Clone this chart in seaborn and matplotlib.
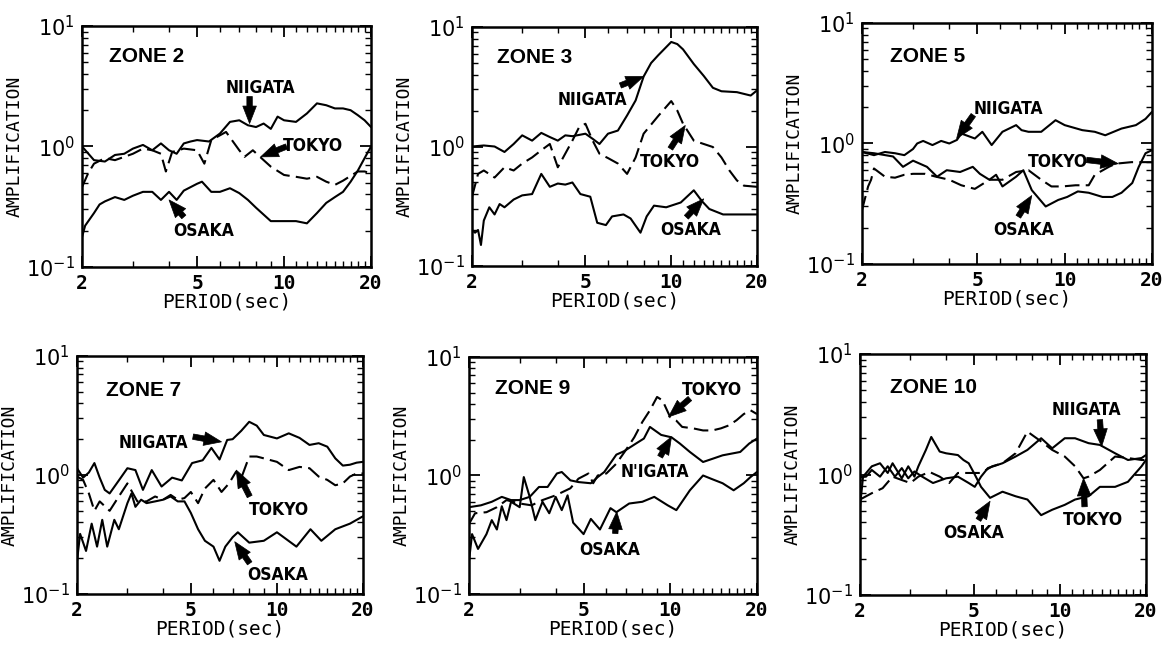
import matplotlib
matplotlib.use("Agg")
import matplotlib.pyplot as plt
from matplotlib.ticker import NullFormatter, LogLocator, FixedLocator
import seaborn as sns
import pandas as pd

# ---------------- data (period [sec], amplification) ----------------
# ZONE 2
z2_niigata_p = [2.0, 2.2, 2.4, 2.6, 2.8, 3.0, 3.25, 3.5, 3.75, 4.0, 4.25, 4.5, 4.75, 5.0, 5.5, 6.0, 6.5, 7.0, 7.5, 8.0, 8.5, 9.0, 9.5, 10, 11, 12, 13, 14, 15, 16, 17, 18, 19, 20]
z2_niigata_a = [1.0, 0.77, 0.75, 0.85, 0.87, 0.96, 1.03, 0.93, 1.06, 0.93, 0.87, 1.06, 1.1, 1.13, 1.1, 1.28, 1.6, 1.65, 1.5, 1.45, 1.55, 1.4, 1.77, 1.65, 1.6, 1.88, 2.28, 2.2, 2.07, 2.07, 2.0, 1.82, 1.65, 1.45]
z2_tokyo_p = [2.0, 2.1, 2.2, 2.4, 2.6, 2.8, 3.0, 3.25, 3.5, 3.75, 3.9, 4.1, 4.5, 5.0, 5.3, 5.6, 6.3, 7.0, 7.3, 7.8, 8.5, 9.0, 10, 11, 12, 13, 14, 15, 16, 17, 18, 19, 20]
z2_tokyo_a = [0.46, 0.6, 0.72, 0.8, 0.77, 0.82, 0.87, 0.96, 0.93, 0.87, 0.62, 0.9, 0.96, 0.93, 0.72, 1.13, 1.32, 0.93, 0.82, 0.93, 0.77, 0.68, 0.58, 0.56, 0.54, 0.56, 0.51, 0.48, 0.52, 0.57, 0.62, 0.62, 0.6]
z2_osaka_p = [2.0, 2.05, 2.2, 2.3, 2.4, 2.6, 2.8, 3.0, 3.25, 3.5, 3.75, 4.0, 4.25, 4.5, 5.0, 5.2, 5.6, 6.0, 6.5, 7.0, 7.5, 8.0, 9.0, 10, 11, 12, 13, 14, 15, 16, 17, 18, 19, 20]
z2_osaka_a = [0.177, 0.22, 0.28, 0.33, 0.35, 0.38, 0.36, 0.39, 0.42, 0.42, 0.36, 0.42, 0.36, 0.43, 0.49, 0.51, 0.42, 0.42, 0.45, 0.41, 0.36, 0.31, 0.24, 0.24, 0.24, 0.23, 0.28, 0.34, 0.38, 0.42, 0.51, 0.63, 0.8, 1.0]

# ZONE 3
z3_niigata_p = [2.0, 2.2, 2.4, 2.6, 2.8, 3.0, 3.25, 3.5, 3.75, 4.0, 4.25, 4.5, 4.75, 5.0, 5.3, 5.6, 6.0, 6.5, 7.0, 7.5, 8.0, 8.5, 9.0, 10, 10.5, 11, 12, 13, 14, 15, 17, 19, 20]
z3_niigata_a = [1.0, 1.02, 1.0, 0.9, 1.05, 1.24, 1.12, 1.3, 1.2, 1.12, 1.24, 1.22, 1.25, 1.28, 1.16, 1.05, 1.28, 1.36, 1.82, 2.43, 3.85, 5.0, 5.8, 7.5, 7.2, 6.5, 4.9, 3.9, 3.1, 2.9, 2.85, 2.67, 2.95]
z3_tokyo_p = [2.0, 2.1, 2.2, 2.4, 2.6, 2.8, 3.0, 3.25, 3.5, 3.75, 4.0, 4.5, 4.75, 5.0, 5.3, 5.6, 6.0, 6.5, 7.0, 7.5, 8.0, 9.0, 10, 10.5, 11, 12, 13, 14, 15, 16, 17, 18, 20]
z3_tokyo_a = [0.38, 0.59, 0.63, 0.55, 0.67, 0.63, 0.72, 0.81, 0.93, 1.05, 0.67, 1.12, 1.45, 1.55, 1.12, 0.87, 0.8, 0.72, 0.59, 0.81, 1.28, 1.8, 2.4, 2.0, 1.55, 1.12, 1.05, 0.99, 0.81, 0.63, 0.52, 0.47, 0.46]
z3_osaka_p = [2.0, 2.05, 2.1, 2.15, 2.2, 2.3, 2.4, 2.5, 2.6, 2.8, 3.0, 3.25, 3.5, 3.75, 4.0, 4.25, 4.5, 4.8, 5.2, 5.5, 5.9, 6.2, 6.8, 7.2, 7.8, 8.2, 8.7, 9.6, 10.8, 12.0, 12.8, 13.6, 15.2, 17.5, 20]
z3_osaka_a = [0.2, 0.19, 0.2, 0.15, 0.24, 0.31, 0.27, 0.33, 0.31, 0.36, 0.39, 0.4, 0.59, 0.46, 0.49, 0.48, 0.5, 0.4, 0.38, 0.23, 0.22, 0.26, 0.27, 0.25, 0.19, 0.26, 0.32, 0.31, 0.34, 0.43, 0.35, 0.3, 0.27, 0.27, 0.27]

# ZONE 5
z5_niigata_p = [2.0, 2.2, 2.4, 2.6, 2.8, 3.0, 3.1, 3.25, 3.5, 3.75, 4.0, 4.25, 4.4, 4.9, 5.2, 5.6, 6.1, 6.8, 7.1, 7.5, 8.3, 9.3, 10.0, 11.5, 12.7, 13.8, 15.7, 17.6, 19.0, 20.0]
z5_niigata_a = [0.85, 0.8, 0.85, 0.83, 0.8, 0.9, 1.0, 1.05, 0.97, 1.05, 1.0, 1.07, 1.21, 1.1, 1.25, 0.97, 1.25, 1.42, 1.29, 1.25, 1.25, 1.56, 1.42, 1.29, 1.25, 1.17, 1.33, 1.42, 1.6, 1.83]
z5_tokyo_p = [2.0, 2.1, 2.15, 2.2, 2.4, 2.6, 2.8, 3.0, 3.3, 3.6, 4.0, 4.4, 4.9, 5.5, 6.1, 6.8, 7.5, 8.3, 9.0, 9.8, 10.9, 12.1, 12.7, 14.2, 15.0, 17.0, 20]
z5_tokyo_a = [0.28, 0.44, 0.5, 0.62, 0.53, 0.52, 0.55, 0.56, 0.56, 0.53, 0.5, 0.45, 0.42, 0.5, 0.5, 0.58, 0.6, 0.5, 0.44, 0.44, 0.45, 0.45, 0.55, 0.64, 0.68, 0.7, 0.7]
z5_osaka_p = [2.0, 2.2, 2.56, 2.77, 3.0, 3.35, 3.63, 3.92, 4.36, 4.82, 5.1, 5.5, 5.8, 6.1, 6.8, 7.2, 7.7, 8.6, 9.5, 10.2, 11.1, 12.1, 13.5, 14.6, 15.7, 17.1, 18.0, 19.0, 20.0]
z5_osaka_a = [0.85, 0.83, 0.78, 0.64, 0.72, 0.64, 0.53, 0.6, 0.58, 0.64, 0.56, 0.5, 0.55, 0.44, 0.53, 0.6, 0.41, 0.3, 0.34, 0.36, 0.4, 0.39, 0.36, 0.36, 0.39, 0.47, 0.64, 0.83, 0.88]

# ZONE 7
z7_niigata_p = [2.0, 2.1, 2.2, 2.3, 2.4, 2.5, 2.6, 2.8, 3.0, 3.2, 3.4, 3.65, 3.95, 4.3, 4.65, 5.05, 5.5, 5.9, 6.3, 6.7, 7.0, 7.5, 8.0, 8.5, 9.0, 10, 11, 12, 13, 14, 15, 16, 17, 18, 19, 20]
z7_niigata_a = [1.14, 0.95, 1.05, 1.26, 0.95, 0.75, 0.7, 0.9, 1.14, 1.1, 0.75, 1.1, 0.8, 0.95, 0.9, 1.26, 1.33, 1.69, 1.35, 1.97, 2.0, 2.35, 2.8, 2.6, 2.17, 2.03, 2.24, 2.05, 1.79, 1.85, 1.73, 1.38, 1.2, 1.22, 1.27, 1.29]
z7_tokyo_p = [2.0, 2.1, 2.2, 2.3, 2.4, 2.6, 2.8, 3.0, 3.25, 3.5, 3.75, 4.0, 4.25, 4.5, 4.75, 5.0, 5.3, 5.6, 6.0, 6.4, 6.8, 7.2, 7.5, 8.0, 8.5, 9.0, 10, 11, 12, 13, 14, 15, 16, 17, 18, 19, 20]
z7_tokyo_a = [0.97, 0.91, 0.7, 0.5, 0.6, 0.5, 0.66, 0.85, 0.6, 0.6, 0.66, 0.62, 0.68, 0.62, 0.64, 0.72, 0.58, 0.77, 0.91, 0.72, 0.85, 1.07, 0.94, 1.43, 1.43, 1.38, 1.29, 1.1, 1.17, 1.14, 0.97, 0.91, 0.82, 0.85, 0.97, 1.03, 1.03]
z7_osaka_p = [2.0, 2.05, 2.15, 2.25, 2.35, 2.45, 2.55, 2.7, 2.8, 3.0, 3.1, 3.2, 3.35, 3.5, 3.75, 4.0, 4.25, 4.5, 4.75, 5.0, 5.3, 5.6, 6.0, 6.3, 6.6, 7.0, 7.3, 8.0, 9.0, 10.0, 11.7, 13.1, 14.3, 16.0, 18.0, 20.0]
z7_osaka_a = [0.19, 0.32, 0.23, 0.39, 0.25, 0.42, 0.25, 0.42, 0.35, 0.58, 0.7, 0.54, 0.62, 0.58, 0.6, 0.62, 0.66, 0.6, 0.6, 0.48, 0.35, 0.28, 0.25, 0.19, 0.25, 0.3, 0.33, 0.27, 0.28, 0.33, 0.25, 0.35, 0.28, 0.35, 0.39, 0.45]

# ZONE 9
z9_niigata_p = [2.0, 2.2, 2.4, 2.6, 2.8, 3.0, 3.25, 3.5, 3.75, 4.04, 4.2, 4.5, 4.8, 5.3, 5.6, 5.9, 6.5, 6.9, 7.6, 8.1, 8.5, 9.3, 10.1, 10.8, 11.7, 13.0, 14.1, 15.2, 17.5, 18.8, 20.0]
z9_niigata_a = [0.54, 0.56, 0.6, 0.66, 0.62, 0.62, 0.66, 0.8, 0.8, 1.04, 1.07, 0.91, 0.88, 0.86, 0.97, 1.07, 1.5, 1.6, 1.86, 2.05, 2.57, 2.2, 2.1, 1.86, 1.58, 1.3, 1.39, 1.48, 1.58, 1.86, 2.05]
z9_tokyo_p = [2.0, 2.1, 2.3, 2.5, 2.7, 3.0, 3.3, 3.6, 4.0, 4.5, 4.8, 5.2, 5.4, 5.6, 6.0, 6.5, 7.0, 7.5, 8.0, 8.5, 9.0, 9.4, 10, 10.5, 11, 12, 13, 14, 15, 16, 17, 18, 19, 20]
z9_tokyo_a = [0.39, 0.48, 0.49, 0.54, 0.62, 0.58, 0.56, 0.62, 0.68, 0.78, 0.94, 1.04, 0.86, 1.0, 1.04, 1.26, 1.63, 2.1, 2.83, 3.55, 4.6, 4.3, 3.1, 2.9, 2.57, 2.5, 2.4, 2.4, 2.5, 2.65, 2.93, 3.3, 3.55, 3.3]
z9_osaka_p = [2.0, 2.05, 2.15, 2.3, 2.4, 2.5, 2.6, 2.7, 2.8, 3.0, 3.1, 3.25, 3.4, 3.6, 3.8, 4.0, 4.2, 4.4, 4.6, 5.0, 5.3, 5.7, 6.2, 6.5, 7.2, 8.0, 8.8, 9.8, 10.5, 11.7, 13.0, 14.0, 15.2, 16.6, 18.0, 19.0, 20.0]
z9_osaka_a = [0.19, 0.32, 0.24, 0.32, 0.42, 0.35, 0.55, 0.42, 0.6, 0.54, 0.97, 0.66, 0.42, 0.6, 0.48, 0.66, 0.51, 0.68, 0.4, 0.32, 0.43, 0.35, 0.53, 0.49, 0.58, 0.6, 0.66, 0.56, 0.51, 0.75, 1.0, 0.93, 0.86, 0.75, 0.86, 0.97, 1.07]

# ZONE 10
z10_niigata_p = [2.0, 2.1, 2.2, 2.35, 2.5, 2.65, 2.8, 2.95, 3.1, 3.3, 3.6, 4.0, 4.4, 4.8, 5.04, 5.3, 5.6, 6.3, 7.0, 7.7, 8.6, 9.4, 10.4, 11.3, 12.6, 13.8, 15.6, 17.3, 19.3, 20.0]
z10_niigata_a = [0.95, 0.96, 1.09, 0.96, 1.17, 0.96, 1.13, 0.93, 1.06, 0.96, 0.85, 0.93, 0.96, 0.85, 0.79, 0.96, 1.13, 1.24, 1.41, 1.6, 2.0, 1.65, 2.0, 2.0, 1.82, 1.76, 1.5, 1.32, 1.37, 1.45]
z10_tokyo_p = [2.0, 2.2, 2.4, 2.6, 2.8, 3.0, 3.2, 3.5, 3.8, 4.1, 4.4, 4.8, 5.3, 5.8, 6.3, 7.0, 7.7, 8.6, 9.4, 10.4, 11.3, 12.1, 12.6, 13.8, 15.6, 17.3, 19.3, 20.0]
z10_tokyo_a = [0.62, 0.7, 0.77, 0.96, 0.9, 0.85, 0.96, 1.05, 0.96, 0.85, 1.03, 1.03, 1.03, 1.17, 1.24, 1.5, 2.27, 1.88, 1.6, 1.41, 1.17, 0.93, 0.96, 1.09, 1.41, 1.37, 1.32, 1.32]
z10_osaka_p = [2.0, 2.05, 2.2, 2.35, 2.5, 2.6, 2.8, 2.95, 3.1, 3.2, 3.4, 3.55, 3.8, 4.0, 4.4, 4.6, 4.8, 5.04, 5.3, 5.7, 6.3, 7.0, 7.7, 8.6, 9.4, 10.4, 11.3, 12.6, 13.8, 15.6, 17.3, 19.3, 20.0]
z10_osaka_a = [0.54, 0.96, 1.17, 1.24, 1.03, 1.24, 0.93, 1.17, 0.96, 1.17, 1.6, 2.05, 1.55, 1.5, 1.45, 1.32, 1.24, 1.0, 0.79, 0.64, 0.72, 0.66, 0.62, 0.46, 0.51, 0.56, 0.62, 0.66, 0.79, 0.79, 0.87, 1.17, 1.32]

zone_names = ["ZONE 2", "ZONE 3", "ZONE 5", "ZONE 7", "ZONE 9", "ZONE 10"]
x_ticks = [2, 5, 10, 20]
x_tick_labels = ["2", "5", "10", "20"]
y_ticks = [0.1, 1, 10]
y_tick_labels = [r"$10^{-1}$", r"$10^{0}$", r"$10^{1}$"]

series = {
    "ZONE 2": [("NIIGATA", z2_niigata_p, z2_niigata_a), ("TOKYO", z2_tokyo_p, z2_tokyo_a), ("OSAKA", z2_osaka_p, z2_osaka_a)],
    "ZONE 3": [("NIIGATA", z3_niigata_p, z3_niigata_a), ("TOKYO", z3_tokyo_p, z3_tokyo_a), ("OSAKA", z3_osaka_p, z3_osaka_a)],
    "ZONE 5": [("NIIGATA", z5_niigata_p, z5_niigata_a), ("TOKYO", z5_tokyo_p, z5_tokyo_a), ("OSAKA", z5_osaka_p, z5_osaka_a)],
    "ZONE 7": [("NIIGATA", z7_niigata_p, z7_niigata_a), ("TOKYO", z7_tokyo_p, z7_tokyo_a), ("OSAKA", z7_osaka_p, z7_osaka_a)],
    "ZONE 9": [("NIIGATA", z9_niigata_p, z9_niigata_a), ("TOKYO", z9_tokyo_p, z9_tokyo_a), ("OSAKA", z9_osaka_p, z9_osaka_a)],
    "ZONE 10": [("NIIGATA", z10_niigata_p, z10_niigata_a), ("TOKYO", z10_tokyo_p, z10_tokyo_a), ("OSAKA", z10_osaka_p, z10_osaka_a)],
}

# ---------------- layout / annotations ----------------
axes_rects = {
    "ZONE 2": [0.0706, 0.590, 0.2487, 0.370],
    "ZONE 3": [0.4062, 0.5914, 0.2453, 0.3671],
    "ZONE 5": [0.7418, 0.5945, 0.2496, 0.3702],
    "ZONE 7": [0.0663, 0.0876, 0.2461, 0.3655],
    "ZONE 9": [0.4036, 0.0876, 0.2478, 0.3640],
    "ZONE 10": [0.7401, 0.0860, 0.2461, 0.3702],
}
title_pos = {
    "ZONE 2": (0.092, 0.873), "ZONE 3": (0.088, 0.874), "ZONE 5": (0.096, 0.86),
    "ZONE 7": (0.103, 0.857), "ZONE 9": (0.09, 0.867), "ZONE 10": (0.105, 0.859),
}
# (label, text_xy, arrow_tail, arrow_tip) in data coords
annotations = {
    "ZONE 2": [("NIIGATA", (8.26, 3.03), (7.6, 2.6), (7.6, 1.55)),
               ("TOKYO", (12.6, 1.0), (10.2, 1.0), (8.3, 0.82)),
               ("OSAKA", (5.27, 0.2), (4.5, 0.26), (4.0, 0.36))],
    "ZONE 3": [("NIIGATA", (5.27, 2.43), (6.63, 3.24), (8.0, 3.86)),
               ("TOKYO", (9.93, 0.74), (9.93, 0.96), (11.2, 1.5)),
               ("OSAKA", (11.7, 0.2), (11.3, 0.256), (13.0, 0.365))],
    "ZONE 5": [("NIIGATA", (6.4, 1.95), (4.84, 1.72), (4.24, 1.1)),
               ("TOKYO", (9.5, 0.705), (11.9, 0.73), (15.3, 0.68)),
               ("OSAKA", (7.2, 0.19), (6.92, 0.247), (7.7, 0.37))],
    "ZONE 7": [("NIIGATA", (3.69, 1.85), (5.09, 2.1), (6.4, 1.9)),
               ("TOKYO", (10.2, 0.51), (8.03, 0.66), (7.21, 1.1)),
               ("OSAKA", (10.1, 0.144), (8.03, 0.181), (7.12, 0.275))],
    "ZONE 9": [("TOKYO", (13.96, 5.24), (11.7, 4.46), (9.86, 3.12)),
               ("N'IGATA", (8.87, 1.07), (9.22, 1.44), (10.1, 2.12)),
               ("OSAKA", (6.18, 0.235), (6.44, 0.324), (6.52, 0.494))],
    "ZONE 10": [("NIIGATA", (12.4, 3.45), (13.8, 2.85), (14.0, 1.71)),
                ("TOKYO", (13.1, 0.42), (12.2, 0.54), (12.1, 0.93)),
                ("OSAKA", (4.98, 0.325), (5.19, 0.42), (5.7, 0.6))],
}

sns.set_style("ticks")
plt.rcParams["font.family"] = ["DejaVu Sans"]
plt.rcParams["mathtext.fontset"] = "dejavusans"
for key in ["text.color", "axes.labelcolor", "xtick.color", "ytick.color", "axes.edgecolor"]:
    plt.rcParams[key] = "black"

fig = plt.figure(figsize=(11.62, 6.51), dpi=100)
mono = "DejaVu Sans Mono"

for zone in zone_names:
    ax = fig.add_axes(axes_rects[zone])
    ax.set_xscale("log")
    ax.set_yscale("log")
    for city, p, a in series[zone]:
        df = pd.DataFrame({"period": p, "amp": a})
        ls = (0, (7, 3)) if city == "TOKYO" else "-"
        sns.lineplot(data=df, x="period", y="amp", ax=ax, color="black",
                     linewidth=1.5, linestyle=ls, sort=False, estimator=None)
    ax.set_xlim(2, 20)
    ax.set_ylim(0.1, 10)
    ax.set_xticks(x_ticks)
    ax.set_xticklabels(x_tick_labels, fontsize=14, family=mono, fontweight="bold")
    ax.xaxis.set_minor_locator(FixedLocator(list(range(3, 20))))
    ax.xaxis.set_minor_formatter(NullFormatter())
    ax.set_yticks(y_ticks)
    ax.set_yticklabels(y_tick_labels, fontsize=15)
    ax.yaxis.set_minor_locator(LogLocator(base=10, subs=range(2, 10)))
    ax.yaxis.set_minor_formatter(NullFormatter())
    ax.tick_params(which="both", direction="in", top=True, right=True, colors="black")
    ax.tick_params(which="major", length=8, width=1.3, pad=5)
    ax.tick_params(which="minor", length=4, width=1.0)
    for s in ax.spines.values():
        s.set_linewidth(1.8)
        s.set_color("black")
    ax.set_xlabel("PERIOD(sec)", fontsize=14, family=mono, labelpad=0)
    ax.set_ylabel("AMPLIFICATION", fontsize=13, family=mono, labelpad=2)

    tx, ty = title_pos[zone]
    ax.text(tx, ty, zone, transform=ax.transAxes, fontsize=15, fontweight="bold",
            ha="left", va="center", family=["Liberation Sans", "DejaVu Sans"])
    for label, txy, tail, tip in annotations[zone]:
        ax.text(txy[0], txy[1], label, ha="center", va="center", fontsize=12.5,
                fontweight="bold", fontstretch="condensed", family=["DejaVu Sans"])
        ax.annotate("", xy=tip, xytext=tail,
                    arrowprops=dict(arrowstyle="simple,head_width=0.7,head_length=0.9,tail_width=0.28",
                                    fc="black", ec="black", lw=0.5,
                                    shrinkA=0, shrinkB=0, mutation_scale=14))

fig.savefig("out.png", dpi=100)
